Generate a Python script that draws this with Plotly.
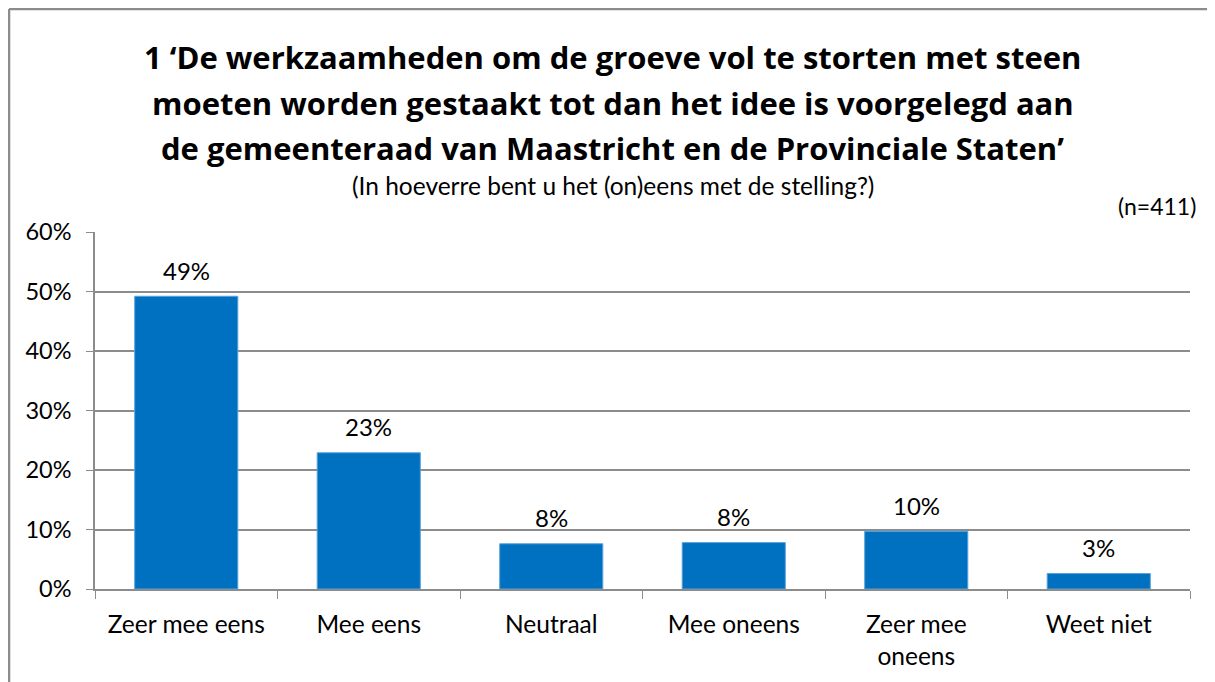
import plotly.graph_objects as go

categories = ["Zeer mee eens", "Mee eens", "Neutraal", "Mee oneens", "Zeer mee<br>oneens", "Weet niet"]
values = [49.2, 22.9, 7.6, 7.8, 9.7, 2.6]
labels = ["49%", "23%", "8%", "8%", "10%", "3%"]
y_ticks = [0, 10, 20, 30, 40, 50, 60]
y_tick_text = ["0%", "10%", "20%", "30%", "40%", "50%", "60%"]

title_lines = [
    "1 \u2018De werkzaamheden om de groeve vol te storten met steen",
    "moeten worden gestaakt tot dan het idee is voorgelegd aan",
    "de gemeenteraad van Maastricht en de Provinciale Staten\u2019",
]
subtitle_text = "(In hoeverre bent u het (on)eens met de stelling?)"
n_text = "(n=411)"

FONT = "Lato, Open Sans, sans-serif"
TFONT = "Open Sans, Lato, sans-serif"
BLUE = "#0070C0"
GRID = "#8C8C8C"

fig = go.Figure()
fig.add_trace(go.Bar(
    x=categories, y=values,
    marker=dict(color=BLUE, line=dict(color="#5BA3DA", width=1)),
    hoverinfo="skip",
))

for c, v, t in zip(categories, values, labels):
    fig.add_annotation(x=c, y=v, text=t, showarrow=False, yanchor="middle",
                       yshift=26, font=dict(family=FONT, size=24, color="black"))

title_y = [1.49, 1.361, 1.235]
for line, ty in zip(title_lines, title_y):
    fig.add_annotation(xref="paper", yref="paper", x=0.473, y=ty, yanchor="middle",
                       text="<b>" + line + "</b>", showarrow=False,
                       font=dict(family=TFONT, size=31, color="black"))
fig.add_annotation(xref="paper", yref="paper", x=0.473, y=1.129, yanchor="middle",
                   text=subtitle_text, showarrow=False,
                   font=dict(family=FONT, size=24.5, color="black"))
fig.add_annotation(xref="paper", yref="paper", x=1.007, y=1.073, xanchor="right", yanchor="middle",
                   text=n_text, showarrow=False,
                   font=dict(family=FONT, size=23, color="black"))

BORDER = dict(color="#8C8C8C", width=2.5)
fig.update_layout(
    width=1207, height=674,
    margin=dict(l=87, r=25, t=224, b=93),
    paper_bgcolor="white", plot_bgcolor="white",
    bargap=0.435, showlegend=False,
    font=dict(family=FONT, size=24, color="black"),
    shapes=[
        dict(type="line", xref="paper", yref="paper", x0=-0.0785, x1=1.2, y0=1.6246, y1=1.6246,
             line=BORDER, layer="below"),
        dict(type="line", xref="paper", yref="paper", x0=-0.0785, x1=-0.0785, y0=-0.6, y1=1.6246,
             line=BORDER, layer="below"),
    ],
)
fig.update_xaxes(
    showline=True, linecolor=GRID, linewidth=1.5, automargin=False,
    ticks="outside", tickson="boundaries", ticklen=8, tickcolor=GRID,
    showgrid=False, tickfont=dict(family=FONT, size=24.5), ticklabelstandoff=13,
    fixedrange=True,
)
fig.update_yaxes(
    range=[0, 60], tickvals=y_ticks, ticktext=y_tick_text, automargin=False,
    showline=True, linecolor=GRID, linewidth=1.5,
    ticks="outside", ticklen=7, tickcolor=GRID,
    showgrid=True, gridcolor=GRID, gridwidth=1.5, zeroline=False,
    tickfont=dict(family=FONT, size=23.5), ticklabelstandoff=10, fixedrange=True,
)

fig.write_html("out.html", config={"displayModeBar": False})
